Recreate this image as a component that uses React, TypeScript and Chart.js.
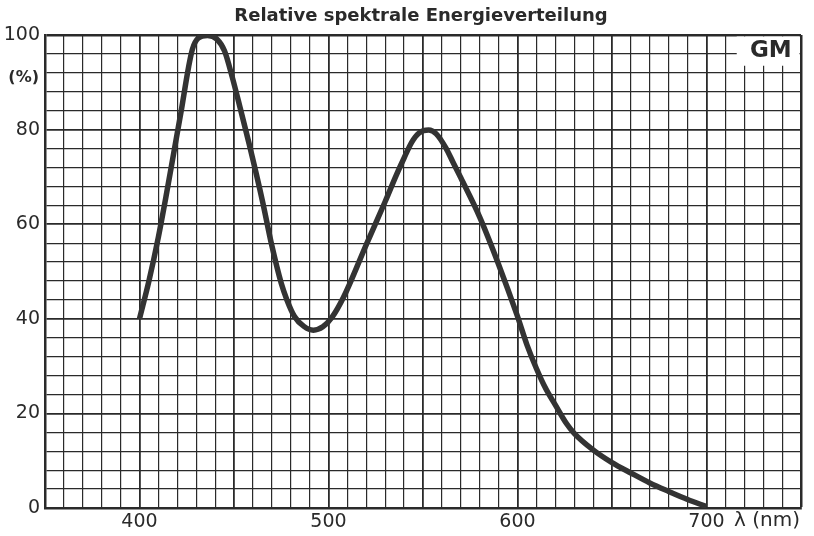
import React, { useEffect, useRef } from "react";
import { Chart, registerables } from "chart.js";

Chart.register(...registerables);

const titleText = "Relative spektrale Energieverteilung";
const yUnitLabel = "(%)";
const xUnitLabel = "λ (nm)";
const badgeText = "GM";

const wavelengths = [
  400, 405, 410, 414, 418, 422, 426, 428, 431, 436, 441, 445, 449, 453, 458, 465, 470, 475, 478, 482,
  487, 492, 497, 502, 508, 520, 530, 536, 540, 544, 548, 553, 557, 562, 566, 570, 580, 590, 600,
  605, 610, 615, 620, 626, 630, 640, 650, 660, 670, 680, 690, 700,
];
const energy = [
  40, 48, 57.3, 65.8, 74.8, 83.8, 93.3, 97, 99.3, 99.9, 99.1, 96.6, 91.2, 85, 77, 65, 55.5, 47.5, 44, 40.5,
  38.4, 37.6, 38.3, 40.4, 44.6, 55.7, 64.8, 70.5, 74, 77.3, 79.3, 79.9, 79.1, 76.2, 73, 69.8, 61.5, 51.5, 40.5,
  34.5, 29.5, 25.2, 21.8, 17.8, 15.8, 12.3, 9.6, 7.4, 5.3, 3.5, 1.8, 0.3,
];

const xLabelValues = [400, 500, 600, 700];
const yLabelValues = [0, 20, 40, 60, 80, 100];

const INK = "#2a2a2a";
const FONT = "'DejaVu Sans', sans-serif";

const decorPlugin = {
  id: "decor",
  beforeDatasetsDraw(chart: any) {
    const { ctx, chartArea } = chart;
    const xs = chart.scales.x;
    const ys = chart.scales.y;
    const bx0 = xs.getPixelForValue(716);
    const by1 = ys.getPixelForValue(93.5);
    ctx.save();
    ctx.fillStyle = "#ffffff";
    ctx.fillRect(bx0, chartArea.top + 1.5, chartArea.right - 1.5 - bx0, by1 - chartArea.top - 1.5);
    ctx.restore();
  },
  afterDraw(chart: any) {
    const { ctx, chartArea } = chart;
    const xs = chart.scales.x;
    const ys = chart.scales.y;
    ctx.save();
    ctx.fillStyle = INK;
    ctx.font = `bold 18px ${FONT}`;
    ctx.textAlign = "center";
    ctx.textBaseline = "middle";
    ctx.fillText(titleText, 421, 16);
    ctx.font = `bold 23px ${FONT}`;
    ctx.textAlign = "center";
    ctx.fillText(badgeText, (xs.getPixelForValue(716) + chartArea.right) / 2 + 2, ys.getPixelForValue(96.6));
    ctx.font = `bold 16px ${FONT}`;
    ctx.textAlign = "right";
    ctx.fillText(yUnitLabel, 39, ys.getPixelForValue(91));
    ctx.font = `20px ${FONT}`;
    ctx.textAlign = "left";
    ctx.fillText(xUnitLabel, 734, 521);
    ctx.restore();
  },
};

export default function App() {
  const ref = useRef<HTMLCanvasElement | null>(null);

  useEffect(() => {
    if (!ref.current) return;
    const data = wavelengths.map((w, i) => ({ x: w, y: energy[i] }));
    const chart = new Chart(ref.current, {
      type: "line",
      data: {
        datasets: [
          {
            data,
            borderColor: "#333333",
            borderWidth: 5.5,
            pointRadius: 0,
            cubicInterpolationMode: "monotone",
            borderCapStyle: "butt",
            borderJoinStyle: "round",
            fill: false,
          },
        ],
      },
      options: {
        animation: false,
        responsive: false,
        maintainAspectRatio: false,
        events: [],
        layout: { padding: { top: 35, right: 13, left: 0, bottom: 0 } },
        plugins: {
          legend: { display: false },
          title: { display: false },
          tooltip: { enabled: false },
        },
        scales: {
          x: {
            type: "linear",
            min: 350,
            max: 750,
            afterFit: (s: any) => {
              s.height = 28;
            },
            ticks: {
              stepSize: 10,
              autoSkip: false,
              maxRotation: 0,
              padding: 3,
              color: INK,
              font: { family: FONT, size: 19 },
              callback: (v: any) => (xLabelValues.includes(Number(v)) ? String(v) : ""),
            },
            grid: {
              color: INK,
              drawTicks: false,
              lineWidth: (c: any) => {
                const v = c.tick ? c.tick.value : 0;
                if (v === 750) return 2.5;
                return v % 50 === 0 ? 1.8 : 1.2;
              },
            },
            border: { display: true, color: INK, width: 2.5 },
          },
          y: {
            type: "linear",
            min: 0,
            max: 100,
            afterFit: (s: any) => {
              s.width = 45;
            },
            ticks: {
              stepSize: 4,
              autoSkip: false,
              padding: 5,
              color: INK,
              font: { family: FONT, size: 19 },
              callback: (v: any) => (yLabelValues.includes(Number(v)) ? String(v) : ""),
            },
            grid: {
              color: INK,
              drawTicks: false,
              lineWidth: (c: any) => {
                const v = c.tick ? c.tick.value : 0;
                if (v === 100) return 2.5;
                return v % 20 === 0 ? 1.8 : 1.2;
              },
            },
            border: { display: true, color: INK, width: 2.5 },
          },
        },
      },
      plugins: [decorPlugin],
    } as any);
    return () => chart.destroy();
  }, []);

  return (
    <div style={{ position: "fixed", left: 0, top: 0, width: 814, height: 536, background: "#ffffff" }}>
      <canvas ref={ref} width={814} height={536} style={{ width: 814, height: 536, display: "block" }} />
    </div>
  );
}
